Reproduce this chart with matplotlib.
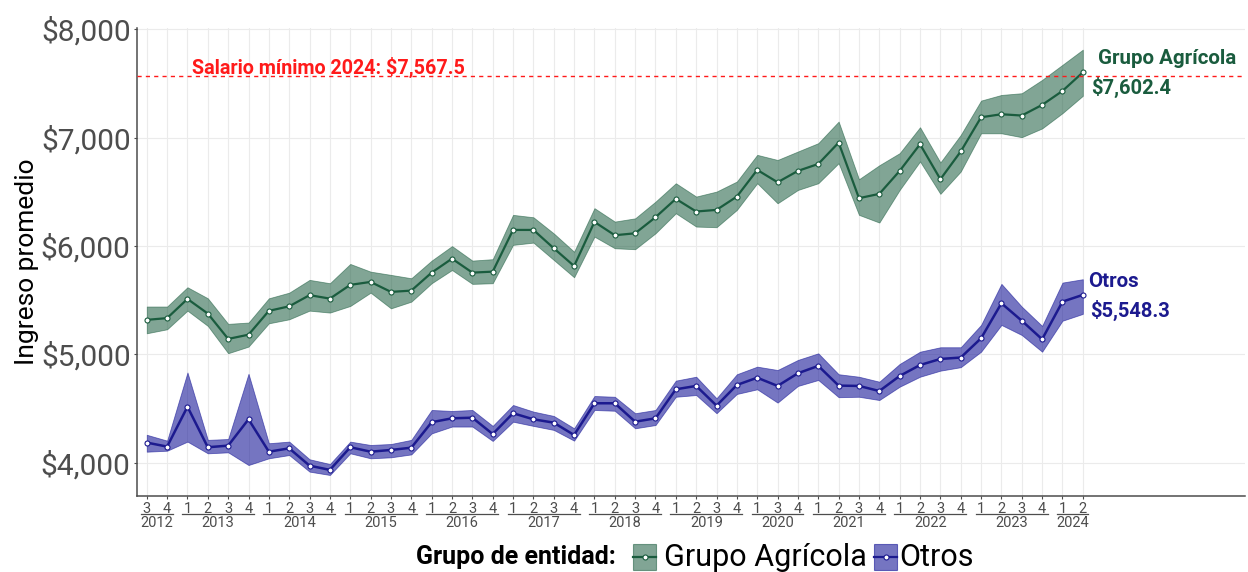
import matplotlib
matplotlib.use("Agg")
import matplotlib.pyplot as plt
from matplotlib.patches import Rectangle
from matplotlib.lines import Line2D

plt.rcParams['font.family'] = ['Roboto', 'DejaVu Sans']

periodos = ["2012-3", "2012-4",
            "2013-1", "2013-2", "2013-3", "2013-4",
            "2014-1", "2014-2", "2014-3", "2014-4",
            "2015-1", "2015-2", "2015-3", "2015-4",
            "2016-1", "2016-2", "2016-3", "2016-4",
            "2017-1", "2017-2", "2017-3", "2017-4",
            "2018-1", "2018-2", "2018-3", "2018-4",
            "2019-1", "2019-2", "2019-3", "2019-4",
            "2020-1", "2020-3", "2020-4",
            "2021-1", "2021-2", "2021-3", "2021-4",
            "2022-1", "2022-2", "2022-3", "2022-4",
            "2023-1", "2023-2", "2023-3", "2023-4",
            "2024-1", "2024-2"]

agricola = [5318, 5334, 5511, 5376, 5142, 5181, 5401, 5443, 5546, 5514,
            5641, 5668, 5576, 5588, 5754, 5883, 5754, 5763, 6148, 6148,
            5979, 5815, 6222, 6099, 6117, 6265, 6435, 6318, 6333, 6456,
            6702, 6588, 6693, 6757, 6954, 6441, 6481, 6693, 6939, 6616,
            6872, 7188, 7216, 7204, 7302, 7431, 7602.4]
agricola_sup = [5441, 5441, 5619, 5517, 5281, 5293, 5517, 5569, 5687, 5656,
                5834, 5763, 5733, 5702, 5865, 5999, 5865, 5878, 6287, 6265,
                6116, 5947, 6349, 6225, 6255, 6409, 6579, 6456, 6502, 6595,
                6841, 6794, 6872, 6949, 7148, 6616, 6745, 6857, 7096, 6771,
                7025, 7342, 7394, 7410, 7533, 7672, 7812]
agricola_inf = [5194, 5231, 5403, 5262, 5010, 5071, 5286, 5323, 5403, 5385,
                5446, 5569, 5424, 5486, 5656, 5778, 5650, 5656, 6010, 6031,
                5871, 5711, 6086, 5979, 5970, 6117, 6302, 6179, 6173, 6333,
                6579, 6394, 6517, 6579, 6764, 6287, 6216, 6517, 6780, 6481,
                6687, 7040, 7040, 7004, 7085, 7226, 7386]

otros = [4185, 4148, 4516, 4142, 4157, 4400, 4101, 4132, 3972, 3933,
         4142, 4101, 4117, 4138, 4373, 4409, 4415, 4264, 4456, 4400,
         4369, 4255, 4548, 4548, 4378, 4409, 4677, 4708, 4526, 4717,
         4784, 4708, 4825, 4893, 4711, 4708, 4661, 4800, 4901, 4957,
         4970, 5148, 5471, 5310, 5139, 5486, 5548.3]
otros_sup = [4257, 4203, 4832, 4210, 4218, 4820, 4179, 4194, 4031, 3987,
             4194, 4163, 4172, 4210, 4486, 4477, 4486, 4339, 4532, 4471,
             4431, 4317, 4615, 4608, 4456, 4486, 4757, 4793, 4594, 4816,
             4886, 4855, 4948, 5009, 4816, 4793, 4747, 4911, 5024, 5065,
             5065, 5271, 5650, 5440, 5262, 5662, 5693]
otros_inf = [4101, 4110, 4194, 4086, 4095, 3978, 4040, 4070, 3917, 3886,
             4086, 4040, 4049, 4076, 4270, 4333, 4333, 4200, 4378, 4339,
             4302, 4203, 4486, 4479, 4317, 4347, 4608, 4624, 4456, 4634,
             4677, 4554, 4708, 4763, 4604, 4608, 4578, 4701, 4793, 4849,
             4881, 5024, 5271, 5178, 5024, 5310, 5373]

salario_minimo = 7567.5
y_ticks = [4000, 5000, 6000, 7000, 8000]
y_labels = ["$4,000", "$5,000", "$6,000", "$7,000", "$8,000"]
grupos_nombres = ["Grupo Agrícola", "Otros"]

verde = '#1a5c3e'
verde_fill = '#1a5c3e'
azul = '#1c1a8f'
azul_fill = '#1a1a99'
gris = '#4d4d4d'

fig = plt.figure(figsize=(12.48, 5.72), dpi=100)
W, H = 1248, 572
ax = fig.add_axes([137 / W, 1 - 496 / H, (1245 - 137) / W, (496 - 28) / H])

x = list(range(len(periodos)))
anios = [p.split("-")[0] for p in periodos]
trims = [p.split("-")[1] for p in periodos]

# grid
for xi in x:
    ax.axvline(xi, color='#ebebeb', lw=0.8, zorder=0)
for yt in y_ticks:
    ax.axhline(yt, color='#ebebeb', lw=0.8, zorder=0)

# bands
ax.fill_between(x, agricola_inf, agricola_sup, facecolor=verde_fill, alpha=0.55,
                edgecolor=verde_fill, lw=0.6, zorder=2)
ax.fill_between(x, otros_inf, otros_sup, facecolor=azul_fill, alpha=0.6,
                edgecolor=azul_fill, lw=0.6, zorder=2)
ax.plot(x, agricola, color=verde, lw=1.6, marker='o', ms=3.6, mfc='white',
        mec=verde, mew=0.8, zorder=3)
ax.plot(x, otros, color=azul, lw=1.8, marker='o', ms=3.6, mfc='white',
        mec=azul, mew=0.8, zorder=3)

# minimum wage
ax.axhline(salario_minimo, color='#ff1a1a', lw=1.0, ls=(0, (3, 3)), zorder=4)
ax.text(8.95, salario_minimo + 85, "Salario mínimo 2024: $7,567.5", color='#ff1a1a',
        fontsize=14.2, fontweight='bold', ha='center', va='center', zorder=5)

# end labels
ax.text(46.75, 7728, "Grupo Agrícola", color=verde, fontsize=14.8, fontweight='bold',
        ha='left', va='center')
ax.text(46.4, 7460, "$7,602.4", color=verde, fontsize=14.5, fontweight='bold',
        ha='left', va='center')
ax.text(46.26, 5668, "Otros", color=azul, fontsize=14.8, fontweight='bold',
        ha='left', va='center')
ax.text(46.35, 5408, "$5,548.3", color=azul, fontsize=14.5, fontweight='bold',
        ha='left', va='center')

ax.set_xlim(-0.48, 53.97)
ax.set_ylim(3692, 8012)

ax.set_yticks(y_ticks)
ax.set_yticklabels(y_labels, fontsize=21.5, color=gris)
ax.set_xticks(x)
ax.set_xticklabels(trims, fontsize=10.5, color=gris)
ax.tick_params(axis='x', length=2.5, pad=1.5, color=gris, width=0.8)
ax.tick_params(axis='y', length=2.5, pad=2, color=gris, width=0.8)
ax.set_ylabel("Ingreso promedio", fontsize=19, color='black', labelpad=1)

for s in ['top', 'right']:
    ax.spines[s].set_visible(False)
for s in ['left', 'bottom']:
    ax.spines[s].set_color(gris)
    ax.spines[s].set_linewidth(1.1)

# year groups
trans = ax.get_xaxis_transform()
grupos = {}
for i, a in enumerate(anios):
    grupos.setdefault(a, []).append(i)
for a, idx in grupos.items():
    x0, x1 = min(idx) - 0.27, max(idx) + 0.27
    ax.plot([x0, x1], [-0.038, -0.038], transform=trans, color=gris, lw=0.9,
            clip_on=False)
    ax.text((min(idx) + max(idx)) / 2, -0.058, a, transform=trans, color=gris,
            fontsize=10.5, ha='center', va='center')

# legend (drawn manually)
yc = 1 - 557 / H
fig.text(416 / W, yc, "Grupo de entidad:", fontsize=18, fontweight='bold',
         ha='left', va='center', color='black')

def key(x0, color_fill, alpha, color_line, label, tx):
    kw, kh = 23, 26
    r = Rectangle((x0 / W, (H - 570) / H), kw / W, kh / H, transform=fig.transFigure,
                  facecolor=color_fill, alpha=alpha, edgecolor=color_fill, lw=0.8)
    fig.add_artist(r)
    yl = (H - 570 + kh / 2) / H
    fig.add_artist(Line2D([x0 / W, (x0 + kw) / W], [yl, yl], transform=fig.transFigure,
                          color=color_line, lw=1.6))
    fig.add_artist(Line2D([(x0 + kw / 2) / W], [yl], transform=fig.transFigure,
                          marker='o', ms=3.6, mfc='white', mec=color_line, mew=0.8))
    fig.text(tx / W, yc, label, fontsize=22, ha='left', va='center', color='black')

key(633, verde_fill, 0.55, verde, grupos_nombres[0], 664)
key(874, azul_fill, 0.6, azul, grupos_nombres[1], 899)

fig.savefig("out.png", dpi=100)
